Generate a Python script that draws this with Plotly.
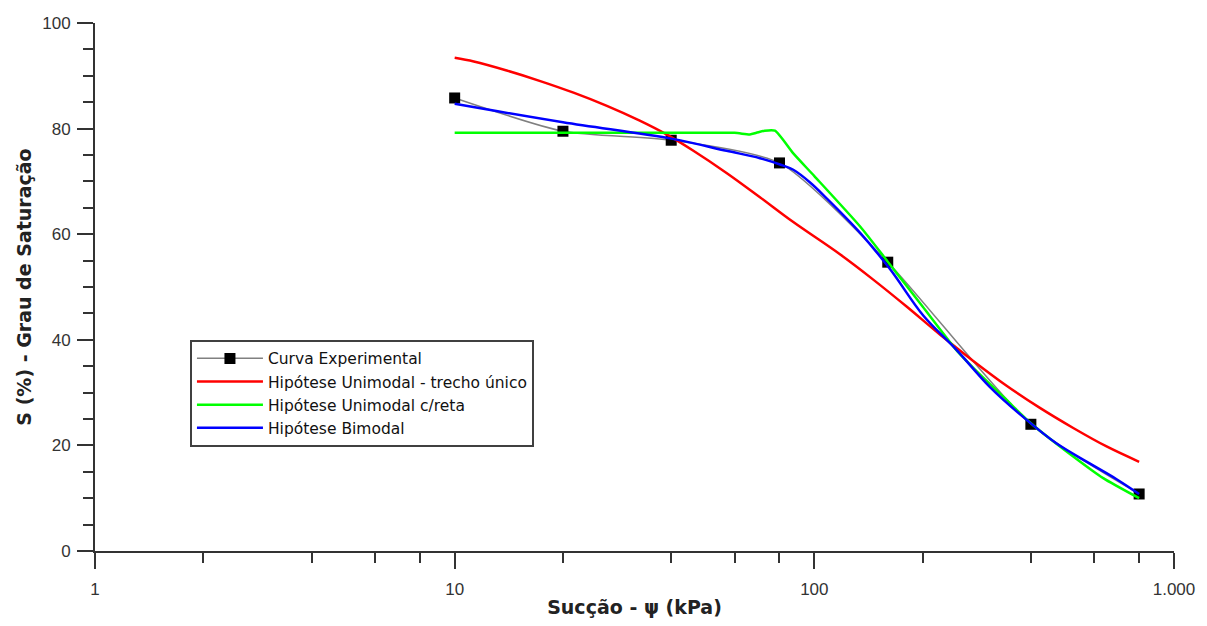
import plotly.graph_objects as go

# Experimental curve
exp_x = [10, 20, 40, 80, 160, 400, 800]
exp_y = [85.8, 79.5, 77.8, 73.5, 54.7, 24.0, 10.8]

# Unimodal - single stretch (red)
red_x = [10, 11.3, 13.95, 17.3, 21.4, 26.5, 32.7, 38.8, 46.1, 57, 70.6, 87.4, 117.8,
         145.8, 180.5, 223.4, 276.6, 342.4, 423.8, 524.6, 649.4, 800]
red_y = [93.4, 92.7, 91.0, 89.0, 86.8, 84.3, 81.5, 78.9, 75.8, 71.6, 67.0, 62.3, 56.2,
         51.4, 46.3, 41.0, 36.0, 31.3, 27.1, 23.3, 19.8, 16.9]

# Unimodal with straight line (green)
green_x = [10, 20, 40, 60, 66.2, 69, 72.8, 77.7, 87.4, 100, 133.9, 160, 200,
           250, 276.6, 342.4, 400, 524.6, 635.6, 800]
green_y = [79.2, 79.2, 79.2, 79.2, 78.9, 79.2, 79.6, 79.6, 75.3, 71.0, 61.5, 54.8, 46.3,
           37.8, 34.7, 28.6, 24.2, 17.9, 13.8, 10.0]

# Bimodal (blue)
blue_x = [10, 20, 40, 57, 70.6, 80.3, 87.4, 97.3, 108.2, 133.9, 162.3, 200.8, 248.5,
          307.4, 380.5, 470.8, 582.6, 692.4, 800]
blue_y = [84.7, 81.2, 78.1, 75.8, 74.4, 73.2, 72.2, 69.8, 66.8, 60.3, 53.4, 44.6, 38.1,
          31.1, 25.4, 20.4, 16.6, 13.6, 10.8]

x_major_vals = [1, 10, 100, 1000]
x_major_text = ["1", "10", "100", "1.000"]
x_minor_vals = [2, 4, 6, 8, 20, 40, 60, 80, 200, 400, 600, 800]
y_major_vals = [0, 20, 40, 60, 80, 100]
y_minor_vals = [5, 10, 15, 25, 30, 35, 45, 50, 55, 65, 70, 75, 85, 90, 95]

fig = go.Figure()
fig.add_trace(go.Scatter(
    x=exp_x, y=exp_y, name="Curva Experimental", mode="lines+markers",
    line=dict(color="#808080", width=1.5, shape="spline", smoothing=0.65),
    marker=dict(symbol="square", color="black", size=11),
))
fig.add_trace(go.Scatter(
    x=red_x, y=red_y, name="Hipótese Unimodal - trecho único", mode="lines",
    line=dict(color="#ff0000", width=2.5, shape="spline", smoothing=1.0),
))
fig.add_trace(go.Scatter(
    x=green_x, y=green_y, name="Hipótese Unimodal c/reta", mode="lines",
    line=dict(color="#00ff00", width=2.5, shape="spline", smoothing=0.6),
))
fig.add_trace(go.Scatter(
    x=blue_x, y=blue_y, name="Hipótese Bimodal", mode="lines",
    line=dict(color="#0000ff", width=2.5, shape="spline", smoothing=1.0),
))

tick_font = dict(family="Liberation Sans", size=17, color="#333333")
title_font = dict(family="DejaVu Sans", size=19, color="#222222", weight="bold")
fig.update_layout(
    width=1207, height=626,
    margin=dict(l=95, r=33, t=23, b=75),
    paper_bgcolor="white", plot_bgcolor="white",
    showlegend=True,
    legend=dict(
        x=0.088, y=0.40, xanchor="left", yanchor="top",
        bgcolor="white", bordercolor="#404040", borderwidth=2,
        font=dict(family="DejaVu Sans", size=15.5, color="#111111"),
        tracegroupgap=0, itemwidth=66,
    ),
    xaxis=dict(
        type="log", range=[0, 3], showgrid=False, zeroline=False,
        showline=True, linecolor="#333333", linewidth=2,
        ticks="outside", ticklen=16, tickwidth=2, tickcolor="#333333",
        tickmode="array", tickvals=x_major_vals, ticktext=x_major_text,
        tickfont=tick_font, ticklabelstandoff=6,
        minor=dict(tickmode="array", tickvals=x_minor_vals, ticks="outside",
                   ticklen=10, tickwidth=2, tickcolor="#333333", showgrid=False),
        title=dict(text="Sucção - ψ (kPa)", font=title_font, standoff=2),
    ),
    yaxis=dict(
        range=[0, 100], showgrid=False, zeroline=False,
        showline=True, linecolor="#333333", linewidth=2,
        ticks="outside", ticklen=16, tickwidth=2, tickcolor="#333333",
        tickmode="array", tickvals=y_major_vals,
        tickfont=tick_font, ticklabelstandoff=3,
        minor=dict(tickmode="array", tickvals=y_minor_vals,
                   ticks="outside", ticklen=10, tickwidth=2, tickcolor="#333333", showgrid=False),
        title=dict(text="S (%) - Grau de Saturação", font=title_font, standoff=6),
    ),
)

fig.write_html("out.html")
